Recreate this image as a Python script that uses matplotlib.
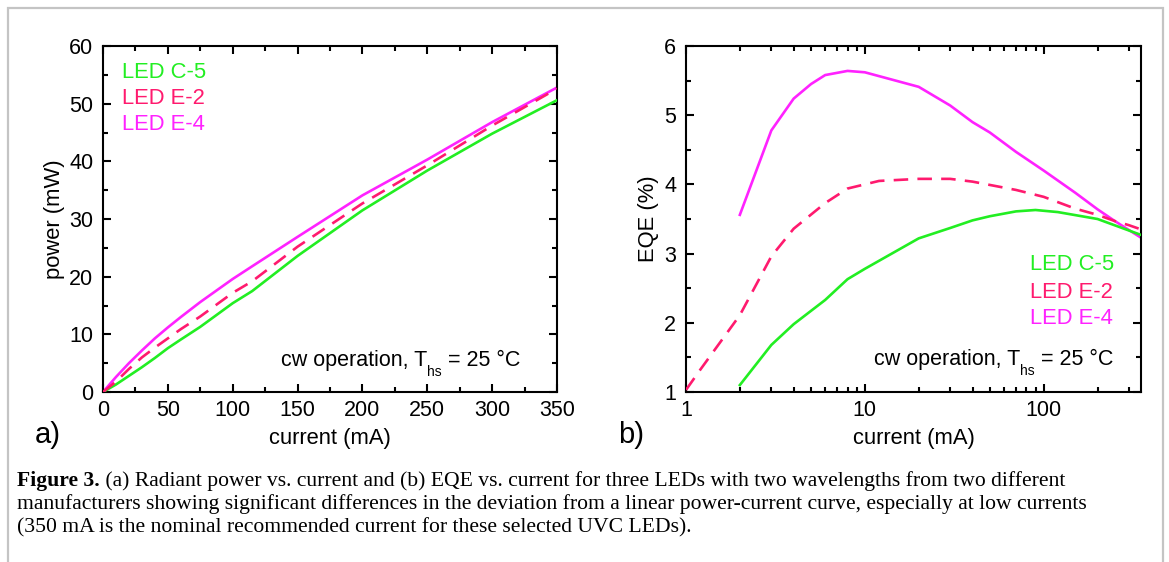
import matplotlib
matplotlib.use("Agg")
import matplotlib.pyplot as plt
from matplotlib.ticker import MultipleLocator, FixedLocator, FixedFormatter, NullFormatter, LogLocator
from matplotlib.patches import Rectangle

# ---------------- data ----------------
# panel a: radiant power (mW) vs current (mA)
cur_a = [0, 10, 20, 30, 40, 50, 60, 75, 100, 115, 150, 200, 250, 300, 350]
pow_c5 = [0, 1.3, 2.8, 4.3, 5.9, 7.6, 9.1, 11.3, 15.4, 17.5, 23.6, 31.5, 38.4, 44.8, 50.6]
pow_e2 = [0, 1.8, 4.0, 6.0, 7.7, 9.3, 10.9, 13.1, 17.2, 19.2, 25.2, 32.7, 39.3, 46.2, 52.6]
pow_e4 = [0, 2.6, 5.0, 7.2, 9.3, 11.2, 13.0, 15.6, 19.6, 21.8, 26.9, 34.1, 40.3, 46.8, 52.8]

# panel b: EQE (%) vs current (mA)
cur_c5 = [2, 3, 4, 6, 8, 10, 20, 30, 40, 50, 70, 90, 120, 200, 350]
eqe_c5 = [1.10, 1.68, 1.98, 2.33, 2.63, 2.78, 3.22, 3.37, 3.48, 3.54, 3.61, 3.63, 3.60, 3.50, 3.27]
cur_e2 = [1, 1.2, 2, 3, 4, 6, 8, 12, 20, 30, 40, 70, 100, 150, 200, 250, 300, 350]
eqe_e2 = [1.03, 1.32, 2.11, 2.96, 3.36, 3.73, 3.94, 4.05, 4.08, 4.08, 4.04, 3.92, 3.82, 3.65, 3.56, 3.47, 3.41, 3.35]
cur_e4 = [2, 3, 4, 5, 6, 8, 10, 20, 30, 40, 50, 70, 100, 150, 200, 250, 300, 350]
eqe_e4 = [3.56, 4.78, 5.24, 5.45, 5.58, 5.64, 5.62, 5.41, 5.14, 4.90, 4.75, 4.47, 4.20, 3.88, 3.64, 3.47, 3.34, 3.23]

labels = ["LED C-5", "LED E-2", "LED E-4"]
colors = ["#22ee22", "#ff1a6e", "#ff22ff"]

note_parts = ["cw operation, T", "hs", " = 25 °C"]

caption = [
    ("Figure 3.", " (a) Radiant power vs. current and (b) EQE vs. current for three LEDs with two wavelengths from two different"),
    ("", "manufacturers showing significant differences in the deviation from a linear power-current curve, especially at low currents"),
    ("", "(350 mA is the nominal recommended current for these selected UVC LEDs)."),
]

# ---------------- style ----------------
plt.rcParams['font.family'] = ['Liberation Sans', 'DejaVu Sans']

W, H = 1169, 562
fig = plt.figure(figsize=(W / 100, H / 100), dpi=100)
renderer = fig.canvas.get_renderer()

# figure frame
fig.patches.append(Rectangle((8 / W, -0.05), (1163 - 8) / W, (H - 8) / H + 0.05,
                             transform=fig.transFigure, fill=False,
                             edgecolor="#c4c4c4", linewidth=1.6))

def px_axes(l, r, t, b):
    return fig.add_axes([l / W, 1 - b / H, (r - l) / W, (b - t) / H])

axa = px_axes(103, 557, 46, 392)
axb = px_axes(686, 1141, 46, 392)

TICK = 15.5
LAB = 15.8
lw = 1.9

def style(ax):
    for s in ax.spines.values():
        s.set_linewidth(1.5)
    ax.tick_params(which='both', direction='in', top=True, right=True, labelsize=TICK)
    ax.tick_params(axis='x', pad=6)
    ax.tick_params(axis='y', pad=7)
    ax.tick_params(which='major', length=6, width=1.5)
    ax.tick_params(which='minor', length=3.5, width=1.5)

def note(x_right, y_base):
    # main text, lowered small subscript, rest; right-aligned at x_right (px)
    sizes = [15.5, 10, 15.5]
    offs = [0, -10, 0]
    widths = []
    for s, fs in zip(note_parts, sizes):
        t = fig.text(0, 0, s, fontsize=fs)
        widths.append(t.get_window_extent(renderer).width)
        t.remove()
    x = x_right - sum(widths)
    for s, fs, off, w in zip(note_parts, sizes, offs, widths):
        fig.text(x / W, 1 - (y_base - off) / H, s, fontsize=fs, va='baseline', ha='left')
        x += w

# panel a
axa.plot(cur_a, pow_c5, color=colors[0], lw=lw, zorder=3)
axa.plot(cur_a, pow_e2, color=colors[1], lw=lw, dashes=(5.5, 3.5), zorder=4)
axa.plot(cur_a, pow_e4, color=colors[2], lw=lw, zorder=2)
axa.set_xlim(0, 350)
axa.set_ylim(0, 60)
axa.xaxis.set_major_locator(MultipleLocator(50))
axa.xaxis.set_minor_locator(MultipleLocator(25))
axa.yaxis.set_major_locator(MultipleLocator(10))
axa.yaxis.set_minor_locator(MultipleLocator(5))
style(axa)
axa.set_xlabel("current (mA)", fontsize=LAB, labelpad=5)
axa.set_ylabel("power (mW)", fontsize=LAB, labelpad=3)
for i, (lab, c) in enumerate(zip(labels, colors)):
    fig.text(122 / W, 1 - (73 + 26 * i) / H, lab, color=c, fontsize=LAB, va='center', ha='left')
note(520, 366)
fig.text(35 / W, 1 - 435 / H, "a)", fontsize=21, va='center', ha='left')

# panel b
axb.plot(cur_c5, eqe_c5, color=colors[0], lw=lw, zorder=3)
axb.plot(cur_e2, eqe_e2, color=colors[1], lw=lw, dashes=(5.5, 3.5), zorder=4)
axb.plot(cur_e4, eqe_e4, color=colors[2], lw=lw, zorder=2)
axb.set_xscale('log')
axb.set_xlim(1, 350)
axb.set_ylim(1, 6)
axb.xaxis.set_major_locator(FixedLocator([1, 10, 100]))
axb.xaxis.set_major_formatter(FixedFormatter(["1", "10", "100"]))
axb.xaxis.set_minor_locator(LogLocator(base=10, subs=range(2, 10), numticks=20))
axb.xaxis.set_minor_formatter(NullFormatter())
axb.yaxis.set_major_locator(MultipleLocator(1))
axb.yaxis.set_minor_locator(MultipleLocator(0.5))
style(axb)
axb.set_xlabel("current (mA)", fontsize=LAB, labelpad=5)
axb.set_ylabel("EQE (%)", fontsize=LAB, labelpad=4)
for i, (lab, c) in enumerate(zip(labels, colors)):
    fig.text(1030 / W, 1 - (265 + 27 * i) / H, lab, color=c, fontsize=LAB, va='center', ha='left')
note(1113, 365)
fig.text(618 / W, 1 - 435 / H, "b)", fontsize=21, va='center', ha='left')

# caption
cap_fs = 15.6
cap_font = ['Liberation Serif', 'DejaVu Serif']
baselines = [486, 509, 532]
for (bold, rest), yb in zip(caption, baselines):
    x0 = 17 / W
    y = 1 - yb / H
    if bold:
        tb = fig.text(x0, y, bold, fontsize=cap_fs, family=cap_font, fontweight='bold',
                      va='baseline', ha='left')
        bb = tb.get_window_extent(renderer)
        x0 = bb.x1 / W
    fig.text(x0, y, rest, fontsize=cap_fs, family=cap_font, va='baseline', ha='left')

fig.savefig("out.png", dpi=100)
